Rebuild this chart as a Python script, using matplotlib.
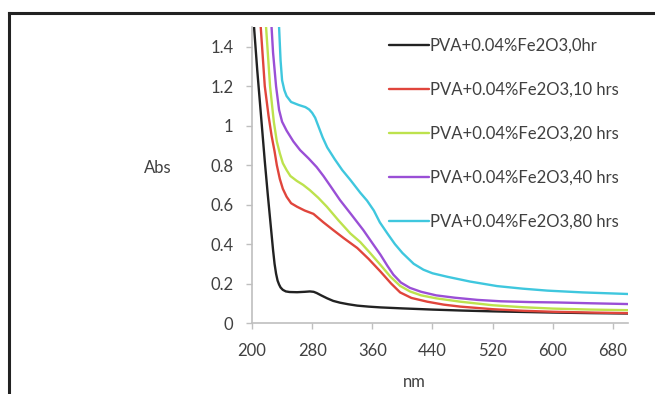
import numpy as np
import matplotlib
matplotlib.use('Agg')
import matplotlib.pyplot as plt
from matplotlib.lines import Line2D

# UV-vis absorbance (nm, Abs)
nm_0 = [202.7, 207, 212, 217, 221, 224, 226, 228, 230, 232, 234, 236, 238, 241, 245, 250, 260, 270, 277,
        282, 286, 292, 300, 308, 317, 328, 340, 355, 371, 400, 440, 480, 520, 560, 600, 650, 700]
abs_0 = [1.5, 1.28, 1.05, 0.82, 0.65, 0.53, 0.45, 0.37, 0.3, 0.25, 0.215, 0.195, 0.18, 0.168, 0.16, 0.157, 0.156, 0.158, 0.16,
         0.158, 0.152, 0.14, 0.125, 0.112, 0.103, 0.095, 0.088, 0.083, 0.079, 0.074, 0.068, 0.063, 0.059, 0.056, 0.053, 0.05, 0.048]

nm_10 = [211.6, 217, 222, 226, 230, 233, 237, 241, 246, 252, 260, 270, 281.7, 295, 308, 322, 340,
         355, 371, 385, 397, 412, 433, 455, 477, 520, 560, 600, 650, 700]
abs_10 = [1.5, 1.2, 1.05, 0.95, 0.87, 0.8, 0.73, 0.68, 0.64, 0.607, 0.589, 0.57, 0.553, 0.51, 0.471, 0.43, 0.38,
          0.325, 0.26, 0.2, 0.155, 0.127, 0.108, 0.093, 0.083, 0.07, 0.062, 0.057, 0.053, 0.05]

nm_20 = [218.7, 224, 229, 233, 237, 241, 246, 251, 259.6, 268, 277, 288, 299.6, 315, 330.7, 344,
         357, 370.7, 384, 397, 410, 425, 445, 477, 520, 560, 600, 650, 700]
abs_20 = [1.5, 1.2, 1.02, 0.92, 0.86, 0.81, 0.775, 0.745, 0.72, 0.7, 0.673, 0.635, 0.589, 0.52, 0.454, 0.41,
          0.355, 0.295, 0.235, 0.188, 0.16, 0.14, 0.125, 0.108, 0.09, 0.08, 0.073, 0.068, 0.065]

nm_40 = [226, 228, 232, 236, 240, 246, 255, 264, 275, 286, 295, 305, 317, 332, 348, 360, 371, 380,
         388, 398, 410, 425, 445, 470, 500, 531, 570, 606, 650, 700]
abs_40 = [1.5, 1.37, 1.2, 1.08, 1.02, 0.975, 0.92, 0.876, 0.835, 0.79, 0.745, 0.69, 0.623, 0.55, 0.471, 0.405, 0.345, 0.29,
          0.245, 0.205, 0.178, 0.158, 0.14, 0.128, 0.117, 0.11, 0.106, 0.104, 0.1, 0.096]

nm_80 = [236, 238, 240, 243, 246, 252, 262, 271, 276, 280, 284, 288, 294, 300, 310, 320, 331, 344, 353, 362,
         370, 380, 390, 400, 415, 428, 440, 460, 490, 526, 560, 593, 640, 700]
abs_80 = [1.5, 1.33, 1.23, 1.18, 1.15, 1.12, 1.105, 1.094, 1.082, 1.065, 1.04, 1.0, 0.94, 0.89, 0.83, 0.775, 0.724, 0.66, 0.62, 0.57,
          0.51, 0.454, 0.4, 0.355, 0.3, 0.27, 0.252, 0.234, 0.21, 0.187, 0.174, 0.164, 0.155, 0.147]

labels = ['PVA+0.04%Fe2O3,0hr', 'PVA+0.04%Fe2O3,10 hrs', 'PVA+0.04%Fe2O3,20 hrs',
          'PVA+0.04%Fe2O3,40 hrs', 'PVA+0.04%Fe2O3,80 hrs']
colors = ['#222222', '#e0453c', '#bde24d', '#9a4fd6', '#3fc7de']
series = [(nm_0, abs_0), (nm_10, abs_10), (nm_20, abs_20), (nm_40, abs_40), (nm_80, abs_80)]

x_ticks = [200, 280, 360, 440, 520, 600, 680]
y_ticks = [0, 0.2, 0.4, 0.6, 0.8, 1, 1.2, 1.4]
y_ticklabels = ['0', '0.2', '0.4', '0.6', '0.8', '1', '1.2', '1.4']

plt.rcParams['font.family'] = ['Lato', 'DejaVu Sans']
txt = '#404040'

fig = plt.figure(figsize=(6.55, 3.94), dpi=100)
ax = fig.add_axes([252 / 655, 1 - 323 / 394, (628 - 252) / 655, (323 - 27) / 394])

for (xs, ys), c, lab in zip(series, colors, labels):
    ax.plot(xs, ys, color=c, lw=1.7, label=lab, solid_capstyle='round', solid_joinstyle='round')

ax.set_xlim(200, 700)
ax.set_ylim(0, 1.5)
ax.set_xticks(x_ticks)
ax.set_yticks(y_ticks)
ax.set_yticklabels(y_ticklabels)
ax.tick_params(colors='#bfbfbf', labelcolor=txt, labelsize=12, length=4, width=1)
ax.tick_params(axis='x', pad=10.5)
ax.tick_params(axis='y', pad=9.5)
for s in ['top', 'right']:
    ax.spines[s].set_visible(False)
for s in ['left', 'bottom']:
    ax.spines[s].set_color('#bfbfbf')
    ax.spines[s].set_linewidth(1.2)

fig.text(158 / 655, 1 - 168 / 394, 'Abs', ha='center', va='center', fontsize=12, color=txt)
fig.text(414 / 655, 1 - 382 / 394, 'nm', ha='center', va='center', fontsize=12, color=txt)

leg = ax.legend(loc='upper left', bbox_to_anchor=(389 / 655, 1 - 38 / 394), bbox_transform=fig.transFigure,
                frameon=False, fontsize=12, handlelength=2.4, handletextpad=0.05, labelspacing=1.68,
                borderpad=0, borderaxespad=0)
for t in leg.get_texts():
    t.set_color(txt)

# outer frame (top and left edges visible in the picture)
fig.add_artist(Line2D([9 / 655, 1.0], [1 - 13 / 394, 1 - 13 / 394], color='#222222', lw=2.2,
                      transform=fig.transFigure))
fig.add_artist(Line2D([9 / 655, 9 / 655], [0, 1 - 13 / 394], color='#222222', lw=2.2,
                      transform=fig.transFigure))

fig.savefig('out.png', dpi=100)
